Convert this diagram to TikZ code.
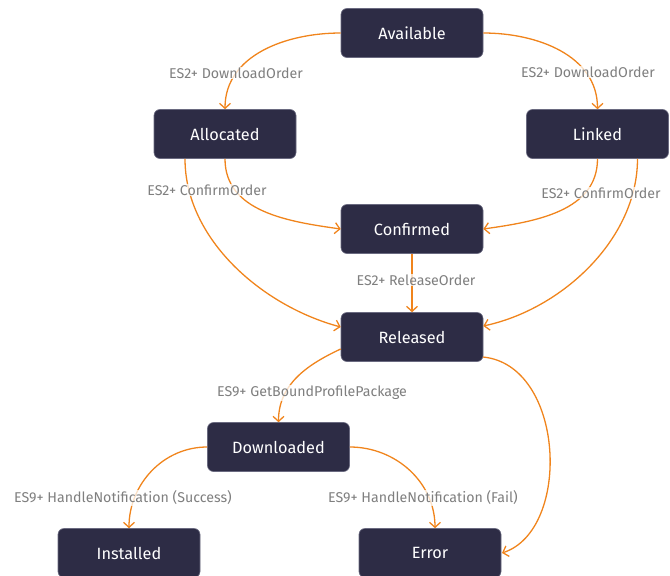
\documentclass[tikz,border=0pt]{standalone}
\usepackage{fontspec}
\setmainfont{Fira Sans}
\usetikzlibrary{arrows.meta}
\definecolor{boxfill}{HTML}{2D2C45}
\definecolor{boxline}{HTML}{6A6A80}
\definecolor{edge}{HTML}{F0841C}
\definecolor{lbltext}{HTML}{7F7F7F}
\tikzset{
  state/.style={draw=boxline, line width=0.6pt, fill=boxfill, rounded corners=6pt,
    minimum width=142pt, minimum height=49pt, text=white, font=\fontsize{16.3}{18}\selectfont},
  lbl/.style={text=lbltext, font=\fontsize{14.2}{16}\selectfont, fill=white, fill opacity=0.75, text opacity=1, inner sep=1pt},
  tr/.style={draw=edge, line width=1.3pt, -{Straight Barb[length=5pt,width=11pt,line width=1.3pt]}}
}
\begin{document}
\begin{tikzpicture}[x=1pt,y=-1pt]
\useasboundingbox (0,0) rectangle (670,576);
\node[state] (avail) at (412,33) {Available};
\node[state] (alloc) at (225,134) {Allocated};
\node[state] (linked) at (597.5,134) {Linked};
\node[state] (conf) at (412,229) {Confirmed};
\node[state] (rel) at (412,337) {Released};
\node[state] (down) at (278.5,447) {Downloaded};
\node[state] (inst) at (129,553) {Installed};
\node[state] (err) at (430,553) {Error};
\coordinate (relE) at (483,357);
\coordinate (errE) at (502,553);

% edges
\draw[tr] (avail.west) to[out=180,in=90] (alloc.north);
\draw[tr] (avail.east) to[out=0,in=90] (linked.north);
\draw[tr] (alloc.south) to[out=-90,in=172] (conf.west);
\draw[tr] ([xshift=-40pt]alloc.south) to[out=-90,in=165,looseness=0.9] ([yshift=10pt]rel.west);
\draw[tr] (linked.south) to[out=-90,in=8] (conf.east);
\draw[tr] ([xshift=40pt]linked.south) to[out=-90,in=12,looseness=0.9] ([yshift=11pt]rel.east);
\draw[tr] (conf.south) -- (rel.north);
\draw[tr] ([yshift=-12pt]rel.west) to[out=205,in=90] (down.north);
\draw[tr] (relE) .. controls (565,365) and (572,530) .. (errE);
\draw[tr] (down.west) to[out=180,in=90] (inst.north);
\draw[tr] (down.east) to[out=0,in=90] ([xshift=5pt]err.north);

% labels
\node[lbl] (l1) at (236,73) {ES2+ DownloadOrder};
\node[lbl] (l2) at (588,72) {ES2+ DownloadOrder};
\node[lbl] (l3) at (207,190) {ES2+ ConfirmOrder};
\node[lbl] (l4) at (601,193) {ES2+ ConfirmOrder};
\node[lbl] (l5) at (416,280) {ES2+ ReleaseOrder};
\node[lbl] (l6) at (312,393) {ES9+ GetBoundProfilePackage};
\node[lbl] (l7) at (123,498) {ES9+ HandleNotification (Success)};
\node[lbl] (l8) at (423,498) {ES9+ HandleNotification (Fail)};
\end{tikzpicture}
\end{document}
